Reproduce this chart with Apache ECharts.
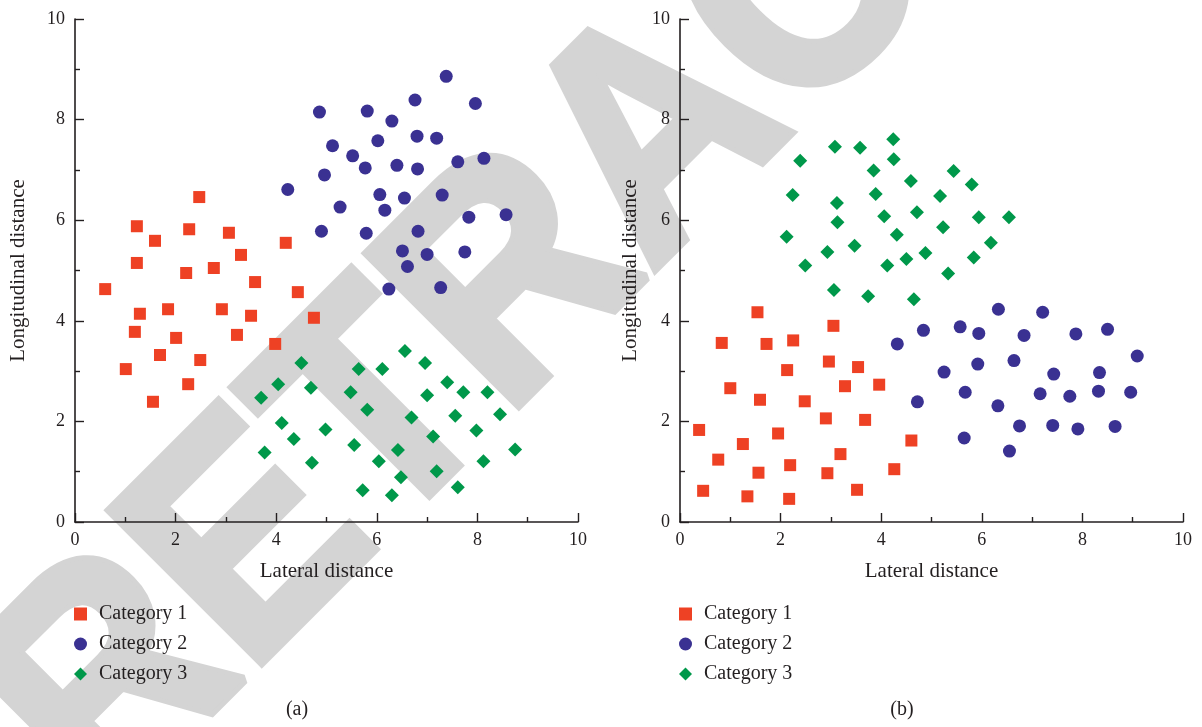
<!DOCTYPE html>
<html>
<head>
<meta charset="utf-8">
<script src="https://cdn.jsdelivr.net/npm/echarts@6/dist/echarts.min.js"></script>
<style>
  html, body { margin: 0; padding: 0; background: #fff; }
  #chart { width: 1202px; height: 727px; }
</style>
</head>
<body>
<div id="chart"></div>
<script>
// Panel (a): lateral / longitudinal positions per category
const cat1A = [
  [0.60, 4.63], [1.23, 5.88], [1.23, 5.15], [1.29, 4.14], [1.19, 3.78], [1.01, 3.04],
  [1.55, 2.39], [1.59, 5.59], [1.69, 3.32], [1.85, 4.23], [2.01, 3.66], [2.21, 4.95],
  [2.27, 5.82], [2.25, 2.74], [2.47, 6.46], [2.49, 3.22], [2.76, 5.05], [2.92, 4.23],
  [3.06, 5.75], [3.22, 3.72], [3.30, 5.31], [3.50, 4.10], [3.58, 4.77], [3.98, 3.54],
  [4.19, 5.55], [4.43, 4.57], [4.75, 4.06]
];
const cat2A = [
  [4.86, 8.15], [5.81, 8.17], [6.76, 8.39], [7.38, 8.86], [7.96, 8.32], [6.30, 7.97],
  [5.12, 7.48], [6.02, 7.58], [6.80, 7.67], [7.19, 7.63], [5.52, 7.28], [5.77, 7.04],
  [6.40, 7.09], [6.81, 7.02], [7.61, 7.16], [8.13, 7.23], [4.96, 6.90], [4.23, 6.61],
  [6.06, 6.51], [6.55, 6.44], [7.30, 6.50], [5.27, 6.26], [6.16, 6.20], [7.83, 6.06],
  [8.57, 6.11], [4.90, 5.78], [5.79, 5.74], [6.82, 5.78], [6.51, 5.39], [7.00, 5.32],
  [7.75, 5.37], [6.61, 5.08], [6.24, 4.63], [7.27, 4.66]
];
const cat3A = [
  [6.56, 3.40], [6.96, 3.16], [4.50, 3.16], [5.64, 3.04], [6.11, 3.04], [4.04, 2.74],
  [4.69, 2.67], [3.70, 2.47], [5.48, 2.58], [7.40, 2.78], [7.72, 2.58], [8.20, 2.58],
  [7.00, 2.52], [5.81, 2.23], [6.69, 2.08], [7.56, 2.11], [8.45, 2.14], [4.11, 1.97],
  [4.98, 1.84], [4.35, 1.65], [7.98, 1.82], [7.12, 1.70], [5.55, 1.53], [3.77, 1.38],
  [6.42, 1.43], [8.75, 1.44], [4.71, 1.18], [6.04, 1.21], [8.12, 1.21], [7.19, 1.01],
  [6.48, 0.89], [5.72, 0.63], [7.61, 0.69], [6.30, 0.53]
];

// Panel (b)
const cat1B = [
  [1.54, 4.17], [3.05, 3.90], [0.83, 3.56], [1.72, 3.54], [2.25, 3.61], [2.13, 3.02],
  [2.96, 3.19], [3.54, 3.08], [1.00, 2.66], [3.28, 2.70], [3.96, 2.73], [1.59, 2.43],
  [2.48, 2.40], [2.90, 2.06], [3.68, 2.03], [0.38, 1.83], [1.95, 1.76], [4.60, 1.62],
  [1.25, 1.55], [0.76, 1.24], [3.19, 1.35], [2.19, 1.13], [1.56, 0.98], [2.93, 0.97],
  [4.26, 1.05], [0.46, 0.62], [1.34, 0.51], [2.17, 0.46], [3.52, 0.64]
];
const cat2B = [
  [6.33, 4.23], [7.21, 4.17], [4.84, 3.81], [5.57, 3.88], [5.94, 3.75], [6.84, 3.71],
  [7.87, 3.74], [8.50, 3.83], [4.32, 3.54], [9.09, 3.30], [5.25, 2.98], [5.92, 3.14],
  [6.64, 3.21], [7.43, 2.94], [8.34, 2.97], [4.72, 2.39], [5.67, 2.58], [6.32, 2.31],
  [7.16, 2.55], [7.75, 2.50], [8.32, 2.60], [8.96, 2.58], [6.75, 1.91], [7.41, 1.92],
  [7.91, 1.85], [8.65, 1.90], [5.65, 1.67], [6.55, 1.41]
];
const cat3B = [
  [4.24, 7.61], [3.08, 7.46], [3.58, 7.44], [2.39, 7.18], [4.25, 7.21], [3.85, 6.99],
  [5.44, 6.98], [4.59, 6.78], [5.80, 6.71], [2.24, 6.50], [3.89, 6.52], [5.17, 6.48],
  [3.12, 6.34], [4.71, 6.16], [3.13, 5.96], [4.06, 6.08], [5.94, 6.06], [6.54, 6.06],
  [5.23, 5.86], [2.12, 5.67], [4.31, 5.71], [6.18, 5.55], [3.47, 5.49], [2.93, 5.37],
  [4.88, 5.35], [4.50, 5.23], [2.49, 5.10], [4.12, 5.10], [5.84, 5.26], [5.33, 4.94],
  [3.06, 4.61], [3.74, 4.49], [4.65, 4.43]
];

const categoryNames = ['Category 1', 'Category 2', 'Category 3'];
const panelLabels = ['(a)', '(b)'];
const axisNames = { x: 'Lateral distance', y: 'Longitudinal distance' };

const INK = '#231f20';
const SERIF = '"Liberation Serif", "DejaVu Serif", serif';
const COLORS = ['#ee4124', '#3a3192', '#00984a'];
const SYMBOLS = ['rect', 'circle', 'diamond'];
const SIZES = [12, 13, 14];

const gridBoxes = [
  { left: 75, top: 19, width: 503, height: 503 },
  { left: 680, top: 19, width: 503, height: 503 }
];

function valueAxis(gridIndex, isX, nameGap) {
  return {
    type: 'value', gridIndex, min: 0, max: 10, interval: 2,
    name: isX ? axisNames.x : axisNames.y,
    nameLocation: 'middle', nameGap,
    nameTextStyle: { fontFamily: SERIF, fontSize: 21, color: INK },
    axisLine: { show: true, lineStyle: { color: INK, width: 1.6 } },
    axisTick: { show: true, inside: true, length: 9, lineStyle: { color: INK, width: 1.4 } },
    minorTick: { show: true, splitNumber: 2, length: 5, lineStyle: { color: INK, width: 1.4 } },
    splitLine: { show: false },
    axisLabel: { fontFamily: SERIF, fontSize: 18, color: INK, margin: isX ? 9 : 10 }
  };
}

const panels = [[cat1A, cat2A, cat3A], [cat1B, cat2B, cat3B]];
const series = [];
panels.forEach((sets, p) => {
  sets.forEach((data, c) => {
    series.push({
      type: 'scatter', name: categoryNames[c],
      xAxisIndex: p, yAxisIndex: p, data,
      symbol: SYMBOLS[c], symbolSize: SIZES[c],
      itemStyle: { color: COLORS[c], opacity: 1 },
      z: 5
    });
  });
});

function legendAt(left) {
  return {
    orient: 'vertical', left, top: 599, itemGap: 10,
    itemWidth: 13, itemHeight: 13, selectedMode: false,
    data: categoryNames.map((n, i) => ({ name: n, icon: SYMBOLS[i] })),
    textStyle: { fontFamily: SERIF, fontSize: 20, color: INK, padding: [0, 0, 0, 7] }
  };
}

function caption(text, centerX) {
  return {
    text, left: centerX, top: 700, textAlign: 'center', padding: 0,
    textStyle: { fontFamily: SERIF, fontSize: 20, fontWeight: 'normal', color: INK }
  };
}

const chart = echarts.init(document.getElementById('chart'), null, { renderer: 'canvas' });
chart.setOption({
  backgroundColor: '#ffffff',
  animation: false,
  color: COLORS,
  grid: gridBoxes,
  xAxis: [valueAxis(0, true, 39), valueAxis(1, true, 39)],
  yAxis: [valueAxis(0, false, 46), valueAxis(1, false, 39)],
  legend: [legendAt(69), legendAt(674)],
  title: [caption(panelLabels[0], 297), caption(panelLabels[1], 902)],
  // diagonal watermark lettering behind both panels
  graphic: [{
    type: 'text', x: 42, y: 760, rotation: Math.PI / 4, scaleX: 0.915, scaleY: 1,
    z: -10, silent: true,
    style: {
      text: 'RETRACTED', fill: '#d4d4d4', stroke: '#d4d4d4', lineWidth: 10,
      fontFamily: '"Liberation Sans", Arial, sans-serif', fontWeight: 'bold', fontSize: 311,
      align: 'left', verticalAlign: 'middle'
    }
  }],
  series
});
</script>
</body>
</html>
